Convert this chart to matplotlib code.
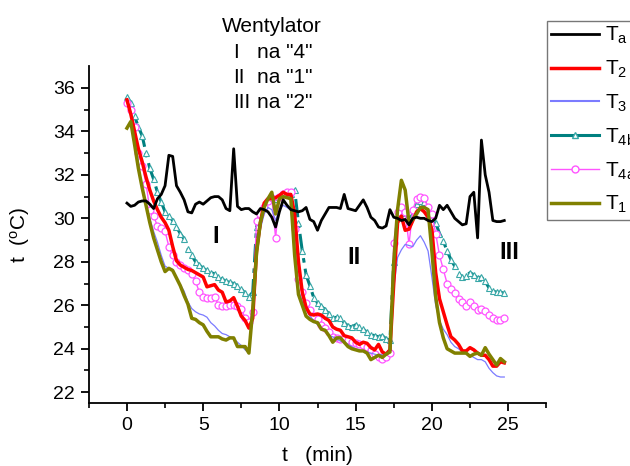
import numpy as np
import matplotlib
matplotlib.use("Agg")
import matplotlib.pyplot as plt
from matplotlib.lines import Line2D

plt.rcParams['font.family'] = ['Liberation Sans', 'DejaVu Sans']
plt.rcParams['mathtext.fontset'] = 'custom'
plt.rcParams['mathtext.rm'] = 'Liberation Sans'
plt.rcParams['mathtext.it'] = 'Liberation Sans'

# time axis (min), sampled every 0.25 min
time_min = np.arange(100) * 0.25

Ta = [30.7, 30.55, 30.6, 30.75, 30.8, 30.8, 30.65, 30.45, 30.9, 31.1,
      31.5, 32.9, 32.85, 31.5, 31.2, 30.85, 30.3, 30.25, 30.65, 30.75,
      30.65, 30.8, 30.95, 31.0, 31.0, 30.85, 30.45, 30.35, 33.2, 30.55,
      30.4, 30.45, 30.45, 30.3, 30.2, 30.45, 30.4, 30.3, 30.05, 29.6,
      30.3, 30.85, 30.6, 30.4, 30.35, 30.3, 30.35, 30.5, 29.95, 29.85,
      29.45, 29.9, 30.2, 30.5, 30.5, 30.5, 30.45, 31.1, 30.45, 30.4,
      30.35, 30.6, 30.85, 30.5, 30.05, 29.9, 29.6, 29.55, 29.65, 30.4,
      30.05, 30.0, 29.9, 29.95, 29.7, 30.0, 30.05, 30.0, 30.0, 29.9,
      29.85, 30.0, 30.6, 30.4, 30.6, 30.3, 30.0, 29.85, 29.7, 29.75,
      31.0, 31.2, 29.1, 33.6, 32.0, 31.2, 29.9, 29.85, 29.85, 29.9]

T2 = [35.45, 34.8, 34.0, 33.2, 32.6, 31.9, 31.3, 30.8, 30.4, 30.05,
      29.8, 29.45, 28.7, 28.05, 27.85, 27.75, 27.65, 27.6, 27.5, 27.4,
      27.3, 26.85, 26.9, 26.95, 26.7, 26.6, 26.15, 26.2, 26.35, 25.95,
      25.5, 25.3, 24.95, 25.4, 28.5, 29.8, 30.7, 30.9, 30.9, 30.95,
      31.05, 31.2, 31.1, 31.1, 30.2, 28.0, 26.6, 25.9, 25.6, 25.55,
      25.6, 25.55, 25.4, 25.3, 25.0, 24.9, 24.85, 24.6, 24.55, 24.5,
      24.3, 24.2, 24.3, 24.25, 24.05, 23.95, 24.2, 23.85, 23.75, 23.95,
      27.0, 29.8, 30.1, 29.45, 29.5, 29.9, 30.3, 30.45, 30.3, 30.05,
      29.5, 27.5, 26.3, 25.7, 25.1, 24.55, 24.4, 24.2, 23.9, 23.9,
      24.05, 23.95, 23.8, 23.7, 23.7, 23.5, 23.2, 23.2, 23.4, 23.35]

T3 = [35.5, 34.9, 33.8, 32.6, 31.3, 30.6, 30.0, 29.4, 28.9, 28.3,
      27.8, 27.7, 27.65, 27.2, 26.95, 26.65, 26.15, 25.85, 25.7, 25.6,
      25.55, 25.45, 25.2, 25.05, 24.85, 24.7, 24.65, 24.55, 24.45, 24.3,
      24.15, 23.95, 23.8, 25.5, 28.3, 29.5, 30.2, 30.5, 30.4, 29.9,
      30.4, 30.6, 30.5, 30.4, 28.7, 26.7, 26.2, 25.8, 25.5, 25.3,
      25.1, 24.95, 24.8, 24.6, 24.55, 24.45, 24.35, 24.3, 24.2, 24.1,
      24.0, 23.95, 23.9, 23.85, 23.8, 23.75, 23.7, 23.75, 23.8, 24.0,
      26.8, 28.2, 28.55, 28.8, 28.75, 28.7, 29.0, 29.2, 28.9, 28.5,
      27.3, 26.0, 25.3, 24.9, 24.65, 24.3, 24.1, 24.0, 23.85, 23.8,
      23.7, 23.6, 23.5, 23.5, 23.4, 23.1, 22.9, 22.75, 22.7, 22.7]

T4b = [35.6, 35.3, 34.7, 34.2, 33.8, 33.0, 32.3, 31.8, 31.2, 30.75,
       30.3, 30.1, 29.9, 29.6, 29.3, 29.05, 28.6, 28.3, 28.0, 27.85,
       27.7, 27.6, 27.5, 27.45, 27.3, 27.2, 27.1, 27.05, 27.0, 26.9,
       26.75, 26.55, 26.4, 26.6, 29.6, 30.2, 30.6, 30.9, 30.95, 30.9,
       31.0, 31.1, 31.15, 31.1, 31.3, 29.8, 28.5, 27.4, 26.9, 26.35,
       26.1, 25.95, 25.8, 25.6, 25.4, 25.45, 25.4, 25.2, 25.05, 25.0,
       25.1, 25.0, 24.9, 24.75, 24.65, 24.6, 24.55, 24.6, 24.45, 24.4,
       28.0, 30.15, 30.25, 30.3, 29.9, 30.2, 30.65, 30.8, 30.75, 30.45,
       30.0, 29.8, 29.3, 28.95, 28.5, 28.1, 27.8, 27.45, 27.3, 27.35,
       27.5, 27.4, 27.25, 27.3, 27.1, 26.8, 26.65, 26.6, 26.6, 26.55]

T4a = [35.3, 35.0, 34.2, 33.0, 32.4, 31.6, 30.4, 30.1, 29.65, 29.55,
       29.4, 28.7, 28.3, 28.0, 27.85, 27.7, 27.6, 27.45, 27.1, 26.6,
       26.4, 26.35, 26.35, 26.4, 26.0, 25.95, 25.95, 26.0, 26.0, 25.95,
       25.85, 25.4, 25.25, 25.7, 29.9, 30.2, 30.5, 30.8, 30.95, 29.1,
       31.0, 31.1, 31.2, 31.2, 29.5, 27.2, 26.6, 26.1, 25.8, 25.5,
       25.35, 25.1, 24.95, 24.75, 24.55, 24.5, 24.45, 24.45, 24.4, 24.3,
       24.25, 24.2, 24.15, 24.1, 23.95, 23.75, 23.6, 23.55, 23.6, 23.8,
       28.85, 30.3, 30.5, 30.3, 28.8, 30.4, 30.9, 31.0, 30.95, 30.5,
       30.2, 29.3, 28.3, 27.65, 27.0, 26.75, 26.55, 26.3, 26.15, 25.95,
       26.15, 25.95, 25.8, 25.85, 25.75, 25.55, 25.4, 25.3, 25.3, 25.4]

T1 = [34.15, 34.45, 33.4, 32.3, 31.4, 30.6, 29.8, 29.1, 28.55, 28.0,
      27.55, 27.7, 27.6, 27.25, 26.9, 26.45, 26.05, 25.4, 25.35, 25.2,
      25.1, 24.8, 24.55, 24.55, 24.55, 24.45, 24.4, 24.5, 24.5, 24.1,
      24.1, 24.1, 23.8, 25.8, 28.4, 29.8, 30.5, 30.9, 31.2, 30.2,
      30.9, 31.0, 30.95, 30.9, 28.3, 26.5, 26.0, 25.5, 25.35, 25.25,
      25.2, 24.9, 24.85, 24.6, 24.3, 24.5, 24.5, 24.3, 24.1, 24.0,
      23.95, 23.9, 23.9, 23.8, 23.5, 23.6, 23.7, 23.6, 23.75, 23.85,
      28.0, 30.4, 31.75, 31.3, 29.8, 29.95, 30.2, 30.5, 30.5, 30.4,
      28.5, 26.4, 25.2, 24.5, 24.0, 23.9, 23.8, 23.8, 23.8, 23.8,
      23.65, 23.75, 23.8, 23.7, 24.05, 23.75, 23.5, 23.25, 23.55, 23.4]

legend_labels = ['T$_{\\mathregular{a}}$', 'T$_{\\mathregular{2}}$', 'T$_{\\mathregular{3}}$',
                 'T$_{\\mathregular{4b}}$', 'T$_{\\mathregular{4a}}$', 'T$_{\\mathregular{1}}$']

c_a, c_2, c_3, c_4b, c_4a, c_1 = 'black', '#ff0000', '#7b7bff', '#008080', '#ff55ff', '#808000'

fig = plt.figure(figsize=(6.3, 4.66), dpi=100)
ax = fig.add_axes([0.141, 0.135, 0.726, 0.723])

ax.plot(time_min, T4b, color=c_4b, lw=2.2, ls=(0, (6, 2, 1.5, 2)), marker='^', ms=4.5,
        mfc='white', mec='#3aa8a8', mew=0.8, zorder=2)
ax.plot(time_min, T4a, color=c_4a, lw=1.0, marker='o', ms=5,
        mfc='white', mec=c_4a, mew=0.9, zorder=2)
ax.plot(time_min, T3, color=c_3, lw=0.9, zorder=3)
ax.plot(time_min, T2, color=c_2, lw=2.5, zorder=4)
ax.plot(time_min, T1, color=c_1, lw=2.5, zorder=5)
ax.plot(time_min, Ta, color=c_a, lw=2.0, zorder=6)

ax.set_xlim(-2.5, 27.5)
ax.set_ylim(21.5, 37)
ax.set_xticks([0, 5, 10, 15, 20, 25])
ax.set_xticks(np.arange(-2.5, 27.6, 2.5), minor=True)
ax.set_yticks(np.arange(22, 37, 2))
ax.set_yticks(np.arange(22, 37, 1), minor=True)
ax.tick_params(which='major', direction='out', length=6, width=1.3, labelsize=14, pad=4)
ax.tick_params(which='minor', direction='out', length=3.5, width=1.2)
for s in ['top', 'right']:
    ax.spines[s].set_visible(False)
for s in ['left', 'bottom']:
    ax.spines[s].set_linewidth(1.3)

ax.set_xlabel('t   (min)', fontsize=15, labelpad=9)
ax.set_ylabel('t  ($^{\\mathregular{o}}$C)', fontsize=15, labelpad=15)

# annotations
fig.text(0.432, 0.944, 'Wentylator', fontsize=15, ha='center', va='center')
for i, (a, b) in enumerate([('I', 'na "4"'), ('II', 'na "1"'), ('III', 'na "2"')]):
    y = 0.887 - i * 0.0535
    fig.text(0.370, y, a, fontsize=15, ha='left', va='center')
    fig.text(0.408, y, b, fontsize=15, ha='left', va='center')

ax.text(5.8, 29.15, 'I', fontsize=17, fontweight='bold', ha='center', va='center')
ax.text(14.87, 28.2, 'II', fontsize=17, fontweight='bold', ha='center', va='center')
ax.text(25.07, 28.45, 'III', fontsize=17, fontweight='bold', ha='center', va='center')

handles = [
    Line2D([], [], color=c_a, lw=2.0),
    Line2D([], [], color=c_2, lw=2.5),
    Line2D([], [], color=c_3, lw=1.5),
    Line2D([], [], color=c_4b, lw=2.2, marker='^', ms=4.5, mfc='white', mec='#3aa8a8'),
    Line2D([], [], color=c_4a, lw=1.0, marker='o', ms=5, mfc='white', mec=c_4a),
    Line2D([], [], color=c_1, lw=2.5),
]
leg = fig.legend(handles, legend_labels, loc='upper left', bbox_to_anchor=(0.868, 0.955),
                 fontsize=15, frameon=True, fancybox=False, edgecolor='#555555',
                 handlelength=2.3, handletextpad=0.3, labelspacing=0.6,
                 borderpad=0.2, numpoints=1, borderaxespad=0)
leg.get_frame().set_linewidth(1.0)

fig.savefig('out.png', dpi=100)
